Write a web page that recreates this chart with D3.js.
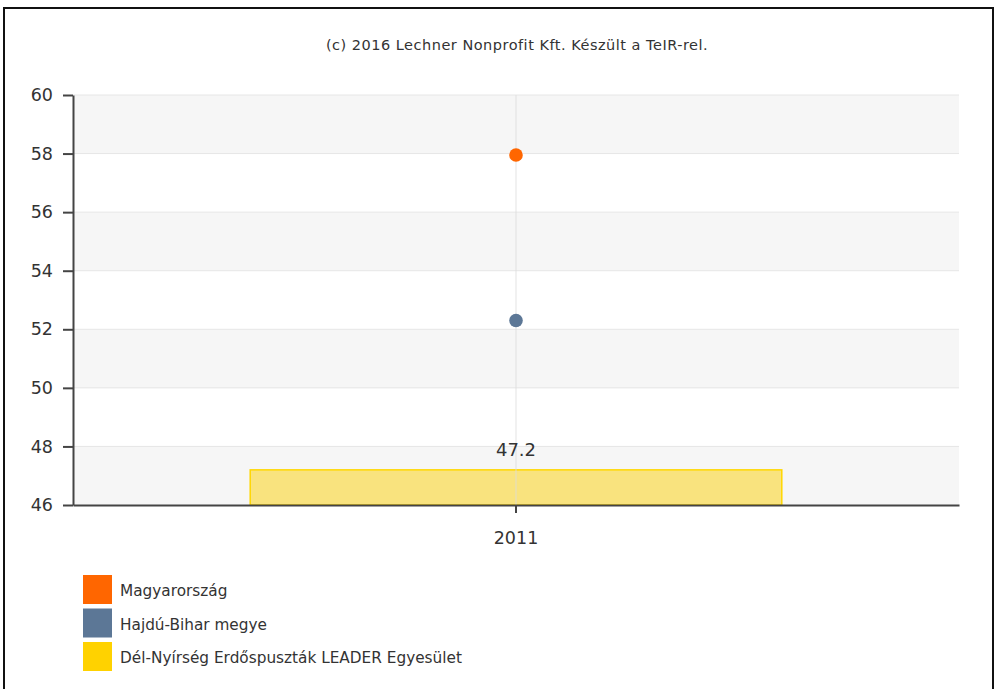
<!DOCTYPE html>
<html><head><meta charset="utf-8">
<script src="https://cdn.jsdelivr.net/npm/d3@7/dist/d3.min.js"></script>
<style>
html,body{margin:0;padding:0;background:#fff;}
svg{display:block;}
</style></head>
<body>
<svg id="chart" width="996" height="689"></svg>
<script>
const categories = ["2011"];
const seriesNames = ["Magyarország", "Hajdú-Bihar megye", "Dél-Nyírség Erdőspuszták LEADER Egyesület"];
const seriesColors = ["#ff6600", "#5c7796", "#ffd200"];
const magyarorszag = [57.95];
const hajduBihar = [52.3];
const delNyirseg = [47.2];
const yTicks = [46, 48, 50, 52, 54, 56, 58, 60];
const titleText = "(c) 2016 Lechner Nonprofit Kft. Készült a TeIR-rel.";

const svg = d3.select("#chart");
const font = "'DejaVu Sans', Verdana, sans-serif";

// outer frame
svg.append("rect").attr("x", 4).attr("y", 8).attr("width", 989).attr("height", 700)
  .attr("fill", "none").attr("stroke", "#111").attr("stroke-width", 2);

const m = {left: 73, right: 959, top: 95, bottom: 505};
const x = d3.scaleBand().domain(categories).range([m.left, m.right]).paddingInner(0).paddingOuter(0);
const y = d3.scaleLinear().domain([46, 60]).range([m.bottom, m.top]);

// title
svg.append("text").attr("x", 517).attr("y", 50).attr("text-anchor", "middle")
  .attr("font-family", font).attr("font-size", 14.5).attr("letter-spacing", 0.5)
  .attr("fill", "#333").text(titleText);

// alternating bands
for (let i = 0; i < yTicks.length - 1; i++) {
  const lo = yTicks[i], hi = yTicks[i + 1];
  svg.append("rect").attr("x", m.left).attr("width", m.right - m.left)
    .attr("y", y(hi)).attr("height", y(lo) - y(hi))
    .attr("fill", i % 2 === 0 ? "#f6f6f6" : "#ffffff");
}
// horizontal gridlines
svg.append("g").selectAll("line").data(yTicks.slice(1)).join("line")
  .attr("x1", m.left).attr("x2", m.right)
  .attr("y1", d => y(d)).attr("y2", d => y(d))
  .attr("stroke", "#e6e6e6").attr("stroke-width", 1);

// bar
const bw = x.bandwidth() * 0.6;
const cx = d => x(d) + x.bandwidth() / 2;
svg.append("g").selectAll("rect").data(categories).join("rect")
  .attr("x", d => cx(d) - bw / 2).attr("width", bw)
  .attr("y", (d, i) => y(delNyirseg[i])).attr("height", (d, i) => y(46) - y(delNyirseg[i]))
  .attr("fill", "#f9e37e").attr("stroke", "#ffd700").attr("stroke-width", 1.5);

// vertical gridline
svg.append("g").selectAll("line").data(categories).join("line")
  .attr("x1", cx).attr("x2", cx).attr("y1", m.top).attr("y2", m.bottom)
  .attr("stroke", "#dcdcdc").attr("stroke-opacity", 0.8).attr("stroke-width", 1);

// bar label
svg.append("g").selectAll("text").data(categories).join("text")
  .attr("x", cx).attr("y", (d, i) => y(delNyirseg[i]) - 14)
  .attr("text-anchor", "middle").attr("font-family", font).attr("font-size", 18)
  .attr("fill", "#333").text((d, i) => delNyirseg[i]);

// points
[[magyarorszag, seriesColors[0]], [hajduBihar, seriesColors[1]]].forEach(([vals, col]) => {
  svg.append("g").selectAll("circle").data(categories).join("circle")
    .attr("cx", cx).attr("cy", (d, i) => y(vals[i])).attr("r", 6.8).attr("fill", col);
});

// y axis
const yAxis = svg.append("g").attr("transform", `translate(${m.left},0)`)
  .call(d3.axisLeft(y).tickValues(yTicks).tickSize(10).tickSizeOuter(0).tickPadding(10));
yAxis.select(".domain").attr("stroke", "#444").attr("stroke-width", 2);
yAxis.selectAll(".tick line").attr("stroke", "#444").attr("stroke-width", 2);
yAxis.selectAll("text").attr("font-family", font).attr("font-size", 17.5).attr("fill", "#333");

// x axis
const xAxis = svg.append("g").attr("transform", `translate(0,${m.bottom})`)
  .call(d3.axisBottom(x).tickSize(8).tickSizeOuter(0).tickPadding(19));
xAxis.select(".domain").attr("stroke", "#444").attr("stroke-width", 2);
xAxis.selectAll(".tick line").attr("stroke", "#444").attr("stroke-width", 2);
xAxis.selectAll("text").attr("font-family", font).attr("font-size", 17.5).attr("fill", "#333");

// legend
const lg = svg.append("g").selectAll("g").data(seriesNames).join("g")
  .attr("transform", (d, i) => `translate(83,${575 + i * 33.5})`);
lg.append("rect").attr("width", 29).attr("height", 29).attr("fill", (d, i) => seriesColors[i]);
lg.append("text").attr("x", 37).attr("y", 21).attr("font-family", font).attr("font-size", 15.3)
  .attr("fill", "#333").text(d => d);
</script>
</body></html>
